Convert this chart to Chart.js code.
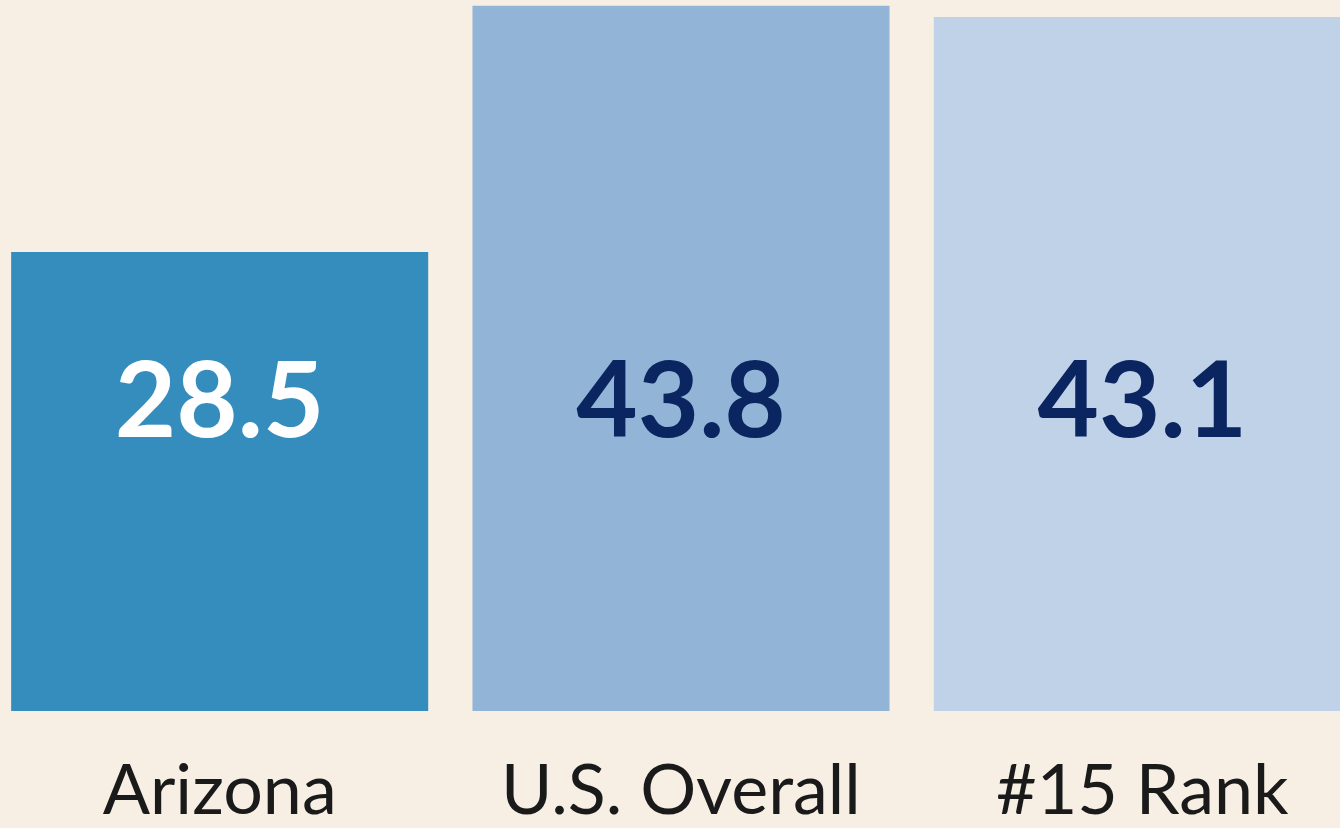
<!DOCTYPE html>
<html>
<head>
<meta charset="utf-8">
<script src="https://cdn.jsdelivr.net/npm/chart.js@4.4.1/dist/chart.umd.min.js"></script>
<style>
  html, body { margin: 0; padding: 0; background: #F7EFE4; overflow: hidden; }
  #wrap { position: absolute; left: -11px; top: 0; width: 1384px; height: 828px; }
</style>
</head>
<body>
<div id="wrap"><canvas id="chart"></canvas></div>
<script>
// chart data
const categories = ['Arizona', 'U.S. Overall', '#15 Rank'];
const values = [28.5, 43.8, 43.1];
const barColors = ['#348DBD', '#92B4D7', '#BFD2E7'];
const valueColors = ['#FFFFFF', '#0A2560', '#0A2560'];

// draws the big number inside each bar
const valueLabels = {
  id: 'valueLabels',
  afterDatasetsDraw(chart) {
    const { ctx, chartArea } = chart;
    const meta = chart.getDatasetMeta(0);
    ctx.save();
    ctx.font = 'bold 106px Lato, "Open Sans", sans-serif';
    ctx.textAlign = 'center';
    ctx.textBaseline = 'alphabetic';
    meta.data.forEach((bar, i) => {
      ctx.fillStyle = valueColors[i];
      ctx.fillText(values[i].toFixed(1), bar.x, chartArea.top + 437);
    });
    ctx.restore();
  }
};

new Chart(document.getElementById('chart'), {
  type: 'bar',
  data: {
    labels: categories,
    datasets: [{
      data: values,
      backgroundColor: barColors,
      borderWidth: 0,
      barPercentage: 1,
      categoryPercentage: 0.904
    }]
  },
  options: {
    responsive: true,
    maintainAspectRatio: false,
    animation: false,
    layout: { padding: 0 },
    plugins: {
      legend: { display: false },
      tooltip: { enabled: false }
    },
    scales: {
      x: {
        grid: { display: false, drawTicks: false },
        border: { display: false },
        ticks: {
          color: '#1A1A1A',
          font: { family: 'Lato, "Open Sans", sans-serif', size: 70 },
          padding: 38,
          maxRotation: 0,
          autoSkip: false
        },
        afterFit(scale) { scale.height = 117; }
      },
      y: {
        display: false,
        min: 0,
        max: 44.15
      }
    }
  },
  plugins: [valueLabels]
});
</script>
</body>
</html>
